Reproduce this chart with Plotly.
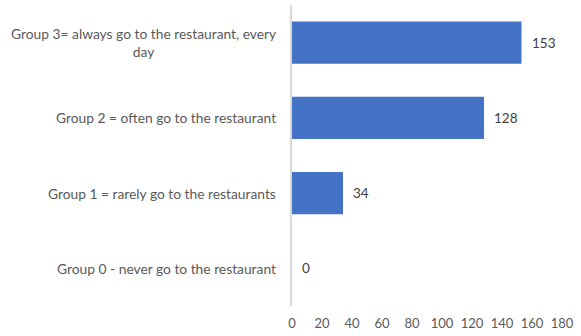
import plotly.graph_objects as go

# Survey groups (bottom to top) and respondent counts
categories = [
    "Group 0 - never go to the restaurant",
    "Group 1 = rarely go to the restaurants",
    "Group 2 = often go to the restaurant",
    "Group 3= always go to the restaurant, every<br>day",
]
counts = [0, 34, 128, 153]
x_ticks = [0, 20, 40, 60, 80, 100, 120, 140, 160, 180]

FONT = "Lato, Calibri, sans-serif"

fig = go.Figure(
    go.Bar(
        y=list(range(len(categories))),
        x=counts,
        orientation="h",
        marker=dict(color="#4472C4", line=dict(width=0)),
        hoverinfo="skip",
    )
)

# Category labels as annotations so wrapped lines are centred
for i, label in enumerate(categories):
    fig.add_annotation(
        x=0, xref="paper", xanchor="right", xshift=-14,
        y=i, yref="y", yanchor="middle",
        text=label, showarrow=False, align="center",
        font=dict(family=FONT, size=13.8, color="#595959"),
    )

# Value labels just past the end of each bar
for i, v in enumerate(counts):
    fig.add_annotation(
        x=v, xref="x", xanchor="left", xshift=8,
        y=i, yref="y", yanchor="middle",
        text=str(v), showarrow=False,
        font=dict(family=FONT, size=13.5, color="#404040"),
    )

fig.update_layout(
    width=581, height=336,
    margin=dict(l=292, r=19, t=5, b=28),
    paper_bgcolor="white", plot_bgcolor="white",
    bargap=0.44,
    showlegend=False,
    xaxis=dict(
        range=[0, 180], tickvals=x_ticks, showgrid=False, zeroline=False,
        showline=False, ticks="", ticklabelstandoff=8,
        tickfont=dict(family=FONT, size=13, color="#595959"),
    ),
    yaxis=dict(
        range=[-0.5, 3.5], showticklabels=False, showgrid=False, zeroline=False,
        showline=True, linecolor="#D9D9D9", linewidth=1.5, ticks="",
    ),
)

fig.write_html("out.html")
